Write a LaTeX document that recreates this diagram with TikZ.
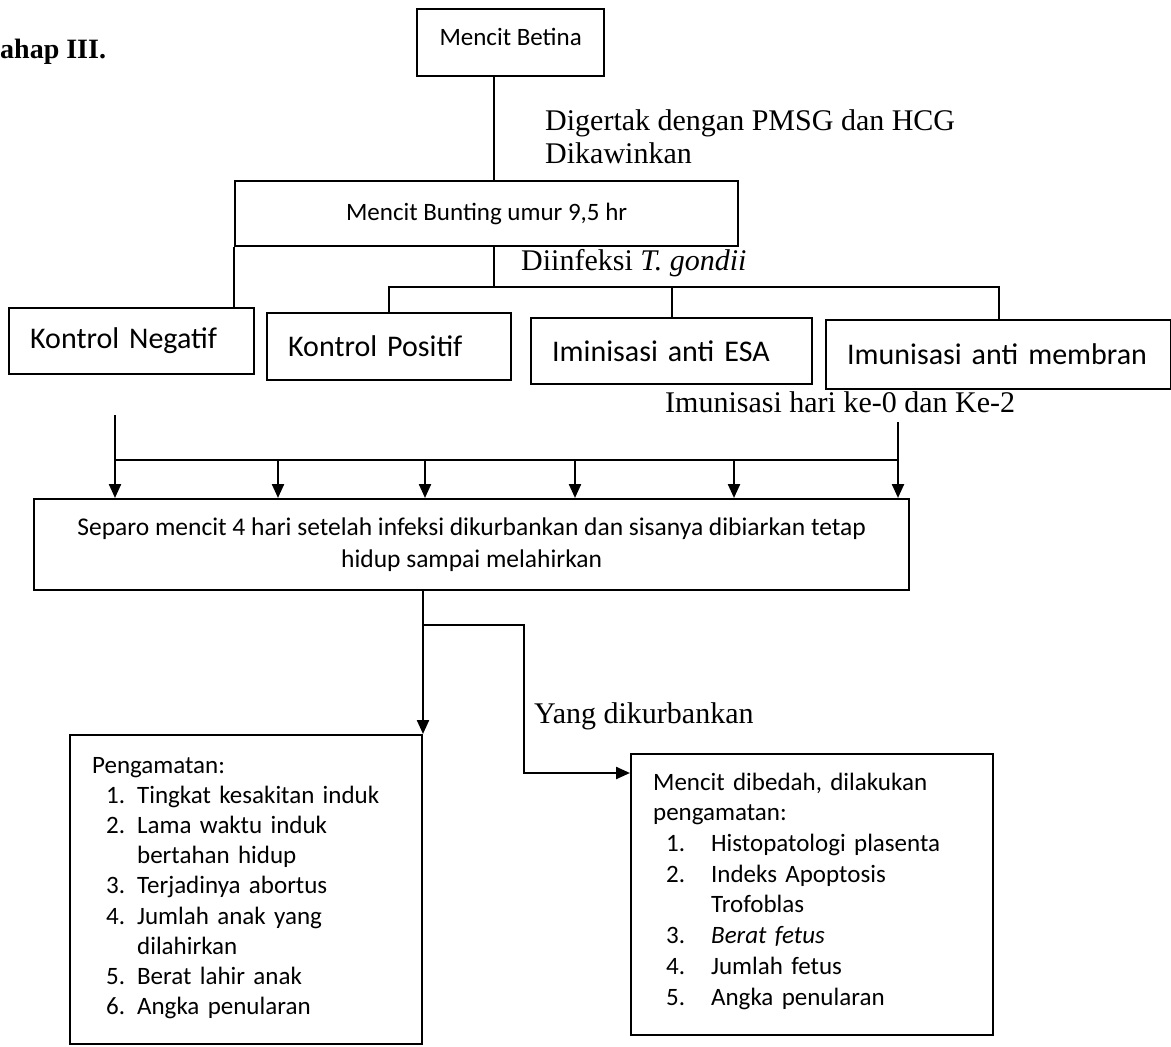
\documentclass[tikz,border=0pt]{standalone}
\usepackage{fontspec}
\setmainfont{Liberation Serif}
\newfontfamily\calibri{Carlito}
\usetikzlibrary{arrows.meta,positioning,calc}

\newcommand{\pnum}[1]{\hspace*{14pt}\makebox[31pt][l]{#1}}
\newcommand{\bnum}[1]{\hspace*{13pt}\makebox[45pt][l]{#1}}

\begin{document}
\begin{tikzpicture}[x=1pt, y=-1pt,
  box/.style={draw, line width=2.3pt, inner sep=0pt, anchor=north west},
  small/.style={font=\calibri\fontsize{25}{30}\selectfont},
  big/.style={box, font=\calibri\fontsize{30}{36}\selectfont, align=left, inner xsep=21pt},
  listbox/.style={box, align=left, inner xsep=22pt, inner ysep=0pt},
  lbl/.style={anchor=base west, inner sep=0pt, font=\fontsize{30}{35}\selectfont},
  link/.style={line width=2.3pt},
  arrow/.style={link, -{Triangle[length=14pt, width=12pt]}}]
\useasboundingbox (0,0) rectangle (1171,1047);

\node[lbl, font=\bfseries\fontsize{28}{34}\selectfont] (tahap) at (0,58) {ahap III.};

\node[box, small, minimum width=187pt, text height=36pt, text depth=31pt] (betina) at (416,8) {Mencit Betina};
\node[box, small, minimum width=503pt, minimum height=65pt] (bunting) at (234,180) {Mencit Bunting umur 9,5 hr};

\node[lbl] (hcg) at (545,130) {Digertak dengan PMSG dan HCG};
\node[lbl] (kawin) at (545,163) {Dikawinkan};
\node[lbl] (infeksi) at (521,270) {Diinfeksi \textit{T. gondii}};

\node[big, text width=203pt, minimum height=66pt] (kneg) at (8,307) {Kontrol Negatif};
\node[big, text width=202pt, minimum height=67pt] (kpos) at (266,312) {Kontrol Positif};
\node[big, text width=239pt, minimum height=66pt] (esa) at (530,317) {Iminisasi anti ESA};
\node[big, text width=303pt, minimum height=69pt] (membran) at (825,319) {Imunisasi anti membran};

\node[lbl] (imun) at (665,412) {Imunisasi hari ke-0 dan Ke-2};

\node[box, font=\calibri\fontsize{25.5}{32}\selectfont, align=center, minimum width=875pt, minimum height=91pt] (separo) at (33,498)
  {Separo mencit 4 hari setelah infeksi dikurbankan dan sisanya dibiarkan tetap\\hidup sampai melahirkan};

\node[lbl] (yang) at (534,723) {Yang dikurbankan};

\node[listbox, font=\calibri\fontsize{25}{30.2}\selectfont, text width=308pt, text height=38pt, text depth=271pt] (peng) at (69,734) {Pengamatan:\\
  \pnum{1.}Tingkat kesakitan induk\\
  \pnum{2.}Lama waktu induk\\
  \hspace*{45pt}bertahan hidup\\
  \pnum{3.}Terjadinya abortus\\
  \pnum{4.}Jumlah anak yang\\
  \hspace*{45pt}dilahirkan\\
  \pnum{5.}Berat lahir anak\\
  \pnum{6.}Angka penularan};

\node[listbox, font=\calibri\fontsize{25}{30.7}\selectfont, text width=318pt, text height=36pt, text depth=245pt] (bedah) at (630,753) {Mencit dibedah, dilakukan\\
  pengamatan:\\
  \bnum{1.}Histopatologi plasenta\\
  \bnum{2.}Indeks Apoptosis\\
  \hspace*{58pt}Trofoblas\\
  \bnum{3.}\textit{Berat fetus}\\
  \bnum{4.}Jumlah fetus\\
  \bnum{5.}Angka penularan};

% junction points
\coordinate (trunk) at (494,287);
\coordinate (inL) at (115,415);
\coordinate (inR) at (898,422);
\coordinate (bus) at (115,460);
\coordinate (fork) at (423,625);
\coordinate (bend) at (524,773);

\draw[link] (betina.south -| trunk) -- (bunting.north -| trunk);
\draw[link] (bunting.south -| trunk) -- (trunk);
\draw[link] (kpos.north) -- (kpos.north |- trunk) -- (membran.north |- trunk) -- (membran.north);
\draw[link] (esa.north |- trunk) -- (esa.north);
\draw[link] (bunting.south west) -- (bunting.south west |- kneg.north);

\draw[arrow] (inL) -- (inL |- separo.north);
\draw[link] (inR) |- (bus);
\foreach \x in {278,425,575,734,898}
  \draw[arrow] (bus -| \x,0) -- (separo.north -| \x,0);

\draw[arrow] (separo.south -| fork) -- (peng.north -| fork);
\draw[arrow] (fork) -| (bend) -- (bend -| bedah.west);
\end{tikzpicture}
\end{document}
